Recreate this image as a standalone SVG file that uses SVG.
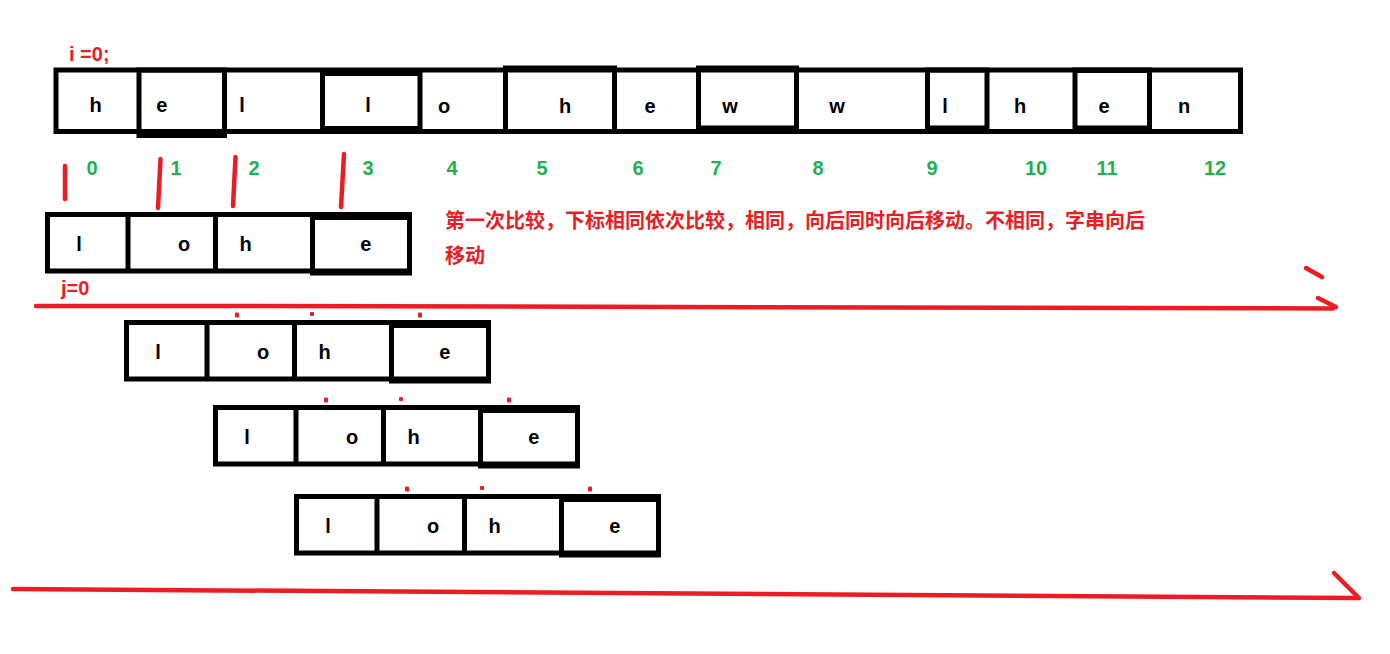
<svg xmlns="http://www.w3.org/2000/svg" width="1390" height="654" viewBox="0 0 1390 654">
<style>
.box{fill:none;stroke:#000;stroke-width:5}
.ch{font-family:"Liberation Sans",Arial,sans-serif;font-weight:bold;font-size:20px;fill:#000;text-anchor:middle}
.idx{font-family:"Liberation Sans",Arial,sans-serif;font-weight:bold;font-size:20px;fill:#22b14c;text-anchor:middle}
.lbl{font-family:"Liberation Sans",Arial,sans-serif;font-weight:bold;font-size:20px;fill:#ed1c24}
.cn{font-family:"Noto Sans CJK SC",sans-serif;font-weight:bold;font-size:20px;fill:#ed1c24}
.red{fill:none;stroke:#ed1c24;stroke-width:4.5;stroke-linecap:round}
.dot{fill:#ed1c24}
</style>
<rect width="1390" height="654" fill="#fff"/>

<g id="main-string">
<rect class="box" x="56" y="70" width="1184.5" height="61.5"/>
<rect class="box" x="139" y="70" width="85.5" height="65.5"/>
<rect class="box" x="322.5" y="73.5" width="97.5" height="55"/>
<rect class="box" x="505.5" y="68" width="109" height="63.5"/>
<rect class="box" x="698.5" y="68" width="98" height="60"/>
<rect class="box" x="927.5" y="70" width="59.5" height="58"/>
<rect class="box" x="1075" y="70" width="74.5" height="58"/>
<rect x="1077" y="70" width="70" height="3" fill="#000"/>
<text class="ch" x="95.7" y="112">h</text>
<text class="ch" x="161.7" y="112">e</text>
<text class="ch" x="242" y="112">l</text>
<text class="ch" x="368" y="112">l</text>
<text class="ch" x="444" y="113">o</text>
<text class="ch" x="565" y="113">h</text>
<text class="ch" x="650" y="113">e</text>
<text class="ch" x="730" y="113">w</text>
<text class="ch" x="837" y="113">w</text>
<text class="ch" x="945" y="113">l</text>
<text class="ch" x="1020" y="113">h</text>
<text class="ch" x="1104" y="113">e</text>
<text class="ch" x="1184" y="113">n</text>
</g>

<g id="labels">
<text class="lbl" x="69" y="61">i =0;</text>
<text class="lbl" x="61" y="295">j=0</text>
<text class="idx" x="92" y="175">0</text>
<text class="idx" x="176" y="175">1</text>
<text class="idx" x="254" y="175">2</text>
<text class="idx" x="368" y="175">3</text>
<text class="idx" x="452" y="175">4</text>
<text class="idx" x="542" y="175">5</text>
<text class="idx" x="638" y="175">6</text>
<text class="idx" x="716" y="175">7</text>
<text class="idx" x="818" y="175">8</text>
<text class="idx" x="932" y="175">9</text>
<text class="idx" x="1036" y="175">10</text>
<text class="idx" x="1107" y="175">11</text>
<text class="idx" x="1215" y="175">12</text>
<text class="cn" x="445" y="228">第一次比较，下标相同依次比较，相同，向后同时向后移动。不相同，字串向后</text>
<text class="cn" x="445" y="263">移动</text>
</g>

<g id="pattern-1" transform="translate(47.5,214.5)">
<rect class="box" x="0" y="0" width="362" height="56.5"/>
<line x1="80.5" y1="0" x2="80.5" y2="56.5" stroke="#000" stroke-width="5"/>
<line x1="168" y1="0" x2="168" y2="56.5" stroke="#000" stroke-width="5"/>
<rect class="box" x="265" y="3" width="97" height="55.5"/>
<rect x="263" y="-2" width="101" height="6" fill="#000"/>
<text class="ch" x="31.5" y="36.5">l</text>
<text class="ch" x="136.5" y="36.5">o</text>
<text class="ch" x="198.2" y="36.5">h</text>
<text class="ch" x="318.2" y="36.5">e</text>
</g>

<g id="pattern-2" transform="translate(126.5,322.5)">
<rect class="box" x="0" y="0" width="362" height="56.5"/>
<line x1="80.5" y1="0" x2="80.5" y2="56.5" stroke="#000" stroke-width="5"/>
<line x1="168" y1="0" x2="168" y2="56.5" stroke="#000" stroke-width="5"/>
<rect class="box" x="265" y="3" width="97" height="55.5"/>
<rect x="263" y="-2" width="101" height="6" fill="#000"/>
<text class="ch" x="31.5" y="36.5">l</text>
<text class="ch" x="136.5" y="36.5">o</text>
<text class="ch" x="198.2" y="36.5">h</text>
<text class="ch" x="318.2" y="36.5">e</text>
<rect class="dot" x="108.5" y="-10" width="4" height="5" rx="1"/>
<rect class="dot" x="183.5" y="-10.5" width="4" height="4" rx="1"/>
<rect class="dot" x="291.5" y="-10" width="4" height="5" rx="1"/>
</g>

<g id="pattern-3" transform="translate(215.5,407.5)">
<rect class="box" x="0" y="0" width="362" height="56.5"/>
<line x1="80.5" y1="0" x2="80.5" y2="56.5" stroke="#000" stroke-width="5"/>
<line x1="168" y1="0" x2="168" y2="56.5" stroke="#000" stroke-width="5"/>
<rect class="box" x="265" y="3" width="97" height="55.5"/>
<rect x="263" y="-2" width="101" height="6" fill="#000"/>
<text class="ch" x="31.5" y="36.5">l</text>
<text class="ch" x="136.5" y="36.5">o</text>
<text class="ch" x="198.2" y="36.5">h</text>
<text class="ch" x="318.2" y="36.5">e</text>
<rect class="dot" x="108.5" y="-10" width="4" height="5" rx="1"/>
<rect class="dot" x="183.5" y="-10.5" width="4" height="4" rx="1"/>
<rect class="dot" x="291.5" y="-10" width="4" height="5" rx="1"/>
</g>

<g id="pattern-4" transform="translate(296.5,496.5)">
<rect class="box" x="0" y="0" width="362" height="56.5"/>
<line x1="80.5" y1="0" x2="80.5" y2="56.5" stroke="#000" stroke-width="5"/>
<line x1="168" y1="0" x2="168" y2="56.5" stroke="#000" stroke-width="5"/>
<rect class="box" x="265" y="3" width="97" height="55.5"/>
<rect x="263" y="-2" width="101" height="6" fill="#000"/>
<text class="ch" x="31.5" y="36.5">l</text>
<text class="ch" x="136.5" y="36.5">o</text>
<text class="ch" x="198.2" y="36.5">h</text>
<text class="ch" x="318.2" y="36.5">e</text>
<rect class="dot" x="108.5" y="-10" width="4" height="5" rx="1"/>
<rect class="dot" x="183.5" y="-10.5" width="4" height="4" rx="1"/>
<rect class="dot" x="291.5" y="-10" width="4" height="5" rx="1"/>
</g>

<g id="connectors">
<line class="red" x1="65" y1="166" x2="65" y2="199"/>
<line class="red" x1="160.5" y1="159" x2="158" y2="208"/>
<line class="red" x1="235.5" y1="157" x2="233" y2="206"/>
<line class="red" x1="344" y1="154" x2="341" y2="207"/>
<path class="red" d="M36,306 L250,306 L1333,308.5"/>
<line class="red" x1="1306" y1="268" x2="1322" y2="277"/>
<line class="red" x1="1318" y1="298" x2="1336" y2="307"/>
<path class="red" d="M13,589 L1358,598"/>
<line class="red" x1="1334" y1="573" x2="1359" y2="598"/>
</g>
</svg>
